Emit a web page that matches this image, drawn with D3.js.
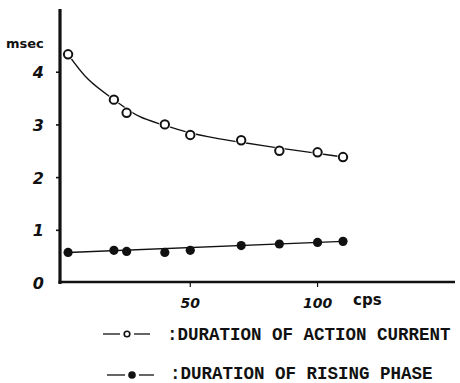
<!DOCTYPE html>
<html>
<head>
<meta charset="utf-8">
<script src="https://cdn.jsdelivr.net/npm/d3@7"></script>
<style>
  html, body { margin: 0; padding: 0; background: #fff; }
  svg { display: block; }
</style>
</head>
<body>
<svg id="chart" width="460" height="383"></svg>
<script>
// Stimulus frequency (cps)
const frequencies = [2, 20, 25, 40, 50, 70, 85, 100, 110];
// Duration of action current (msec)
const actionCurrent = [4.34, 3.48, 3.23, 3.01, 2.81, 2.71, 2.51, 2.48, 2.39];
// Duration of rising phase (msec)
const risingPhase = [0.58, 0.62, 0.60, 0.58, 0.62, 0.71, 0.74, 0.77, 0.79];

// Hand-drawn smooth curve through the action-current points
const actionTrendX = [2, 10, 20, 30, 40, 50, 60, 70, 85, 100, 110];
const actionTrendY = [4.34, 3.86, 3.48, 3.16, 2.99, 2.85, 2.75, 2.67, 2.56, 2.46, 2.39];
// Hand-drawn straight line through the rising-phase points
const risingTrendX = [2, 110];
const risingTrendY = [0.58, 0.79];

const yTicks = [0, 1, 2, 3, 4];
const xTicks = [50, 100];
const legendLabels = [":DURATION OF ACTION CURRENT", ":DURATION OF RISING PHASE"];

const svg = d3.select("#chart");

const x = d3.scaleLinear().domain([0, 154]).range([63, 455]);
const y = d3.scaleLinear().domain([0, 5.2]).range([283, 9]);

const ink = "#111";

// Axis lines
svg.append("line")
  .attr("x1", x(0) - 3).attr("x2", x(0) - 3)
  .attr("y1", y.range()[1]).attr("y2", y(0) + 1)
  .attr("stroke", ink).attr("stroke-width", 3.2);
svg.append("line")
  .attr("x1", x(0) - 4.5).attr("x2", x.range()[1])
  .attr("y1", y(0) - 1).attr("y2", y(0) - 1)
  .attr("stroke", ink).attr("stroke-width", 2.6);

// Y ticks and labels
const yt = svg.append("g");
yt.selectAll("line").data(yTicks.filter(d => d > 0)).join("line")
  .attr("x1", x(0) - 7).attr("x2", x(0) - 3)
  .attr("y1", d => y(d)).attr("y2", d => y(d))
  .attr("stroke", ink).attr("stroke-width", 1.6);
yt.selectAll("text").data(yTicks).join("text")
  .attr("x", 44)
  .attr("y", d => y(d) + 6)
  .attr("text-anchor", "end")
  .attr("font-family", "DejaVu Sans")
  .attr("font-weight", "bold")
  .attr("font-style", "italic")
  .attr("font-size", 16)
  .attr("fill", ink)
  .text(d => d);

// X ticks and labels
const xt = svg.append("g");
xt.selectAll("line").data(xTicks).join("line")
  .attr("x1", d => x(d)).attr("x2", d => x(d))
  .attr("y1", y(0)).attr("y2", y(0) + 4)
  .attr("stroke", ink).attr("stroke-width", 1.2);
xt.selectAll("text").data(xTicks).join("text")
  .attr("x", d => x(d))
  .attr("y", 308)
  .attr("text-anchor", "middle")
  .attr("font-family", "DejaVu Sans")
  .attr("font-weight", "bold")
  .attr("font-style", "italic")
  .attr("font-size", 14)
  .attr("fill", ink)
  .text(d => d);

// Axis unit labels
svg.append("text")
  .attr("x", 6).attr("y", 48)
  .attr("font-family", "DejaVu Sans").attr("font-weight", "bold")
  .attr("font-size", 13).attr("fill", ink)
  .text("msec");
svg.append("text")
  .attr("x", 353).attr("y", 305)
  .attr("font-family", "DejaVu Sans").attr("font-weight", "bold")
  .attr("font-size", 15).attr("fill", ink)
  .text("cps");

// Action-current curve
const actionTrend = actionTrendX.map((f, i) => [f, actionTrendY[i]]);
svg.append("path")
  .datum(actionTrend)
  .attr("d", d3.line().x(d => x(d[0])).y(d => y(d[1])).curve(d3.curveCatmullRom))
  .attr("fill", "none").attr("stroke", ink).attr("stroke-width", 1.4);

// Rising-phase trend line
const risingTrend = risingTrendX.map((f, i) => [f, risingTrendY[i]]);
svg.append("path")
  .datum(risingTrend)
  .attr("d", d3.line().x(d => x(d[0])).y(d => y(d[1])))
  .attr("fill", "none").attr("stroke", ink).attr("stroke-width", 1.4);

// Open circles, with a white halo so the curve breaks around them
const actionPts = frequencies.map((f, i) => [f, actionCurrent[i]]);
svg.append("g").selectAll("circle").data(actionPts).join("circle")
  .attr("cx", d => x(d[0])).attr("cy", d => y(d[1]))
  .attr("r", 5.8).attr("fill", "#fff");
svg.append("g").selectAll("circle").data(actionPts).join("circle")
  .attr("cx", d => x(d[0])).attr("cy", d => y(d[1]))
  .attr("r", 4.2).attr("fill", "#fff")
  .attr("stroke", ink).attr("stroke-width", 2);

// Filled circles
const risingPts = frequencies.map((f, i) => [f, risingPhase[i]]);
svg.append("g").selectAll("circle").data(risingPts).join("circle")
  .attr("cx", d => x(d[0])).attr("cy", d => y(d[1]))
  .attr("r", 4.6).attr("fill", ink);

// Legend
const legend = svg.append("g")
  .attr("font-family", "Liberation Mono").attr("font-weight", "bold")
  .attr("font-size", 17.5).attr("fill", ink);

// row 1: open circle
legend.append("line").attr("x1", 103).attr("x2", 120).attr("y1", 334).attr("y2", 334)
  .attr("stroke", ink).attr("stroke-width", 1.3);
legend.append("circle").attr("cx", 127).attr("cy", 334).attr("r", 2.8)
  .attr("fill", "#fff").attr("stroke", ink).attr("stroke-width", 1.6);
legend.append("line").attr("x1", 134).attr("x2", 150).attr("y1", 334).attr("y2", 334)
  .attr("stroke", ink).attr("stroke-width", 1.3);
legend.append("text").attr("x", 167).attr("y", 340).text(legendLabels[0]);

// row 2: filled circle
legend.append("line").attr("x1", 107).attr("x2", 125).attr("y1", 375).attr("y2", 375)
  .attr("stroke", ink).attr("stroke-width", 1.3);
legend.append("circle").attr("cx", 132).attr("cy", 375).attr("r", 3.8).attr("fill", ink);
legend.append("line").attr("x1", 139).attr("x2", 154).attr("y1", 375).attr("y2", 375)
  .attr("stroke", ink).attr("stroke-width", 1.3);
legend.append("text").attr("x", 170).attr("y", 379).text(legendLabels[1]);
</script>
</body>
</html>
